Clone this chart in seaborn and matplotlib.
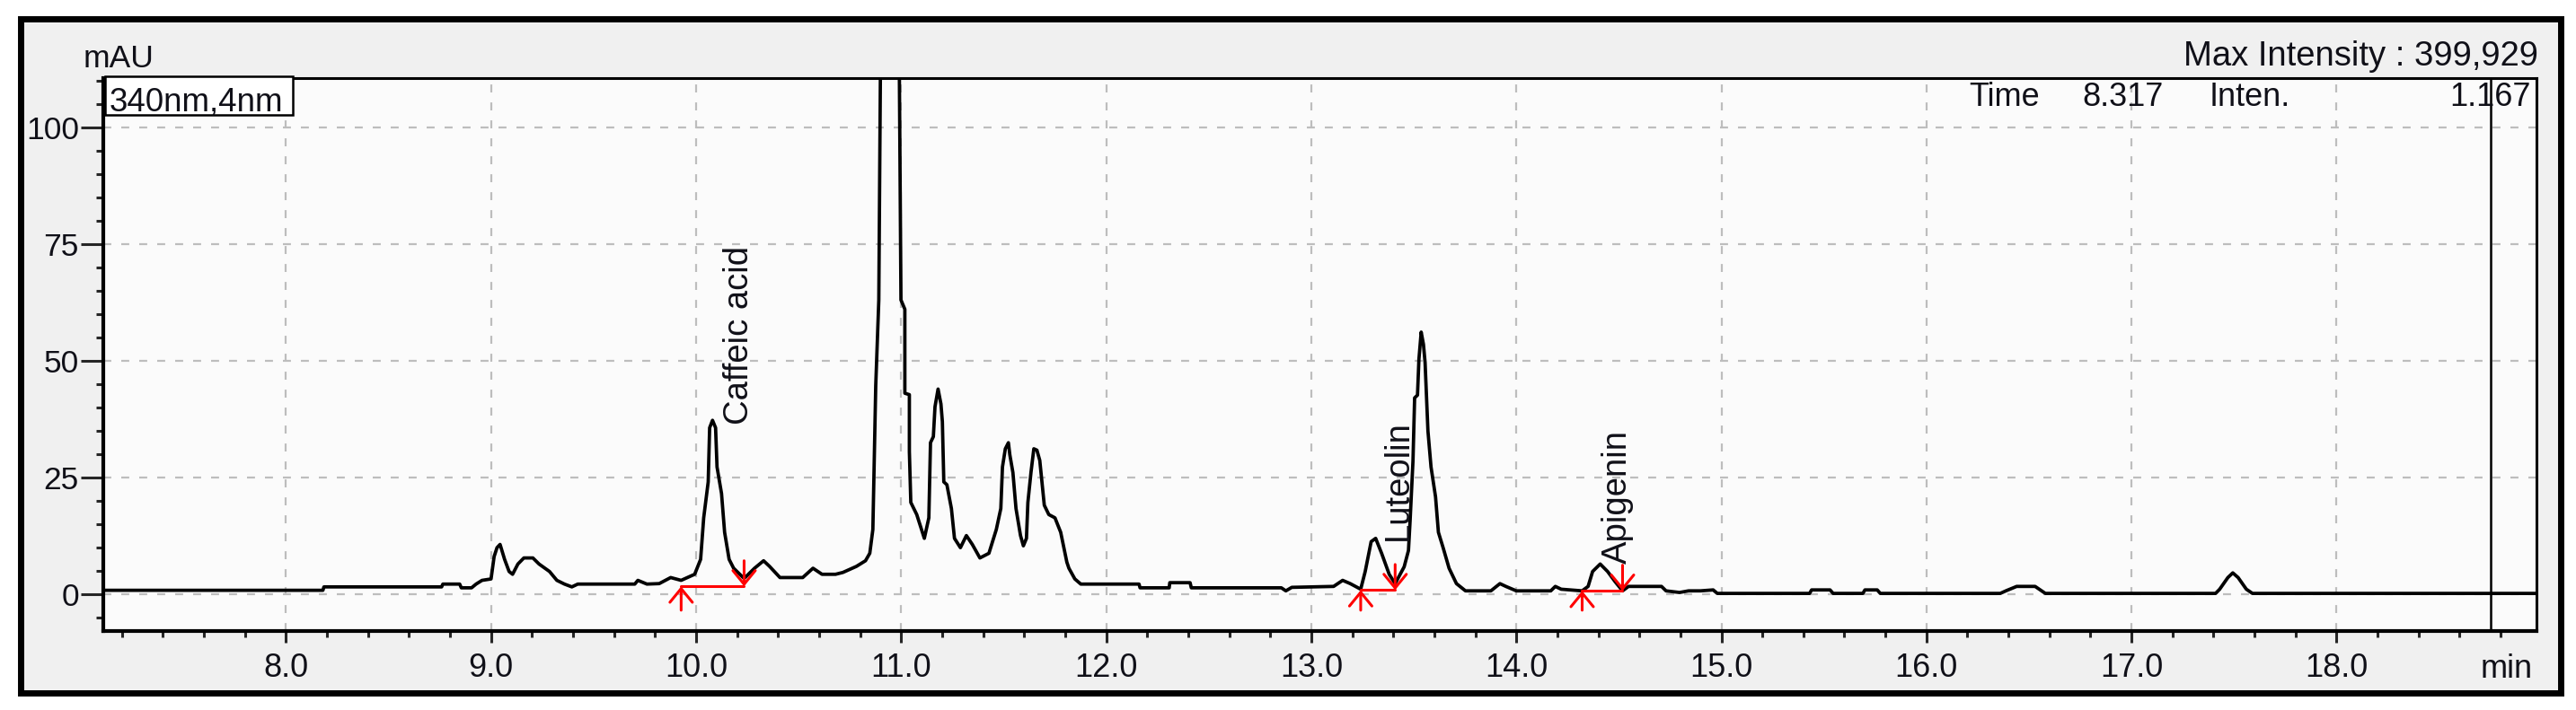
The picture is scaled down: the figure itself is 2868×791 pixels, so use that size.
import matplotlib
matplotlib.use("Agg")
import matplotlib.pyplot as plt
from matplotlib.patches import Rectangle
from matplotlib.ticker import MultipleLocator, FormatStrFormatter
import seaborn as sns
import pandas as pd


# =========================================================
# DATA (minutes, mAU)
# =========================================================

time_min = [
    7.11, 8.18, 8.185, 8.759, 8.765, 8.847, 8.855, 8.905, 8.927, 8.956,
    9.0, 9.015, 9.029, 9.044, 9.066, 9.088, 9.105, 9.131, 9.16, 9.204,
    9.234, 9.285, 9.321, 9.358, 9.394, 9.423, 9.701, 9.716, 9.76, 9.82,
    9.876, 9.927, 9.993, 10.022, 10.037, 10.059, 10.066, 10.08, 10.095, 10.102,
    10.124, 10.139, 10.161, 10.183, 10.234, 10.285, 10.329, 10.358, 10.409, 10.52,
    10.57, 10.614, 10.68, 10.716, 10.782, 10.826, 10.847, 10.862, 10.876, 10.891,
    10.945, 10.999, 11.018, 11.018, 11.04, 11.04, 11.047, 11.076, 11.113, 11.135,
    11.143, 11.157, 11.165, 11.18, 11.194, 11.201, 11.208, 11.223, 11.245, 11.26,
    11.289, 11.318, 11.347, 11.384, 11.428, 11.464, 11.486, 11.494, 11.508, 11.523,
    11.53, 11.545, 11.56, 11.582, 11.596, 11.611, 11.618, 11.633, 11.647, 11.662,
    11.676, 11.698, 11.72, 11.75, 11.778, 11.808, 11.818, 11.847, 11.876, 12.16,
    12.165, 12.307, 12.31, 12.409, 12.415, 12.854, 12.876, 12.905, 13.109, 13.153,
    13.19, 13.241, 13.263, 13.292, 13.314, 13.343, 13.38, 13.409, 13.453, 13.474,
    13.482, 13.496, 13.504, 13.518, 13.525, 13.536, 13.547, 13.555, 13.569, 13.584,
    13.606, 13.62, 13.643, 13.672, 13.708, 13.752, 13.876, 13.92, 13.949, 14.0,
    14.168, 14.19, 14.219, 14.321, 14.35, 14.372, 14.409, 14.445, 14.482, 14.518,
    14.547, 14.708, 14.73, 14.796, 14.84, 14.898, 14.96, 14.98, 15.43, 15.44,
    15.53, 15.545, 15.69, 15.70, 15.76, 15.775, 16.36, 16.39, 16.44, 16.53,
    16.56, 16.58, 17.41, 17.43, 17.47, 17.494, 17.52, 17.56, 17.59, 18.97,
]
absorbance_mau = [
    0.77, 0.77, 1.5, 1.5, 2.1, 2.1, 1.3, 1.3, 2.1, 2.9,
    3.2, 8.0, 9.9, 10.6, 7.4, 4.8, 4.2, 6.4, 7.7, 7.7,
    6.4, 4.8, 2.9, 2.1, 1.5, 2.1, 2.1, 2.9, 2.1, 2.2,
    3.5, 2.9, 4.2, 7.4, 16.3, 24.0, 35.6, 37.2, 35.6, 27.2,
    21.5, 13.2, 7.4, 5.5, 3.3, 5.5, 7.1, 5.9, 3.5, 3.5,
    5.5, 4.2, 4.2, 4.6, 5.9, 7.1, 8.7, 13.8, 44.6, 63.0,
    400.0, 63.0, 61.0, 43.0, 42.7, 30.5, 19.6, 17.0, 11.9, 16.3,
    32.4, 33.7, 40.1, 43.9, 40.7, 36.9, 24.0, 23.4, 18.3, 11.9,
    9.9, 12.5, 10.6, 7.7, 8.7, 13.8, 18.3, 27.2, 31.1, 32.4,
    29.8, 26.0, 18.3, 12.5, 10.3, 11.9, 19.6, 26.0, 31.1, 30.8,
    28.6, 19.0, 17.0, 16.3, 13.2, 6.8, 5.5, 3.2, 2.1, 2.1,
    1.3, 1.3, 2.4, 2.4, 1.3, 1.3, 0.65, 1.4, 1.6, 2.9,
    2.2, 1.0, 4.8, 11.2, 11.9, 8.7, 4.2, 2.2, 5.8, 9.3,
    15.7, 28.5, 42.0, 42.6, 50.3, 56.1, 53.5, 49.6, 34.9, 27.2,
    20.8, 13.2, 9.9, 5.5, 2.2, 0.65, 0.65, 2.2, 1.6, 0.65,
    0.65, 1.6, 1.0, 0.65, 1.6, 4.8, 6.4, 4.8, 2.6, 0.65,
    1.6, 1.6, 0.65, 0.3, 0.65, 0.65, 0.85, 0.1, 0.1, 0.85,
    0.85, 0.1, 0.1, 0.85, 0.85, 0.1, 0.1, 0.7, 1.6, 1.6,
    0.7, 0.1, 0.1, 1.0, 3.5, 4.5, 3.5, 1.0, 0.1, 0.1,
]

# integrated peaks (start / end of integration, baseline level)
peak_names = ["Caffeic acid", "Luteolin", "Apigenin"]
peak_start_min = [9.927, 13.241, 14.321]
peak_end_min = [10.234, 13.409, 14.518]
peak_base_mau = [1.6, 0.8, 0.65]

# where each peak name starts (rotated text)
label_t = [10.254, 13.468, 14.538]
label_y = [36.3, 11.5, 6.4]

x_ticks = [8.0, 9.0, 10.0, 11.0, 12.0, 13.0, 14.0, 15.0, 16.0, 17.0, 18.0]
y_ticks = [0, 25, 50, 75, 100]
cursor_time = 18.752

df = pd.DataFrame({"time": time_min, "mAU": absorbance_mau})


# =========================================================
# FIGURE
# =========================================================

sns.set_style("white")
plt.rcParams["font.family"] = ["Liberation Sans", "DejaVu Sans"]
txt_color = "#101018"

W, H = 2868, 791
fig = plt.figure(figsize=(W / 100, H / 100), dpi=100, facecolor="white")

# outer black frame of the report window
fig.add_artist(Rectangle((23 / W, 1 - 771.5 / H), (2851 - 23) / W, (771.5 - 20.5) / H,
                         transform=fig.transFigure, facecolor="#f0f0f0",
                         edgecolor="black", linewidth=5, zorder=-10))

ax = fig.add_axes([115 / W, 1 - 702.7 / H, (2824 - 115) / W, (702.7 - 86.7) / H])
ax.set_facecolor("#fbfbfb")

sns.lineplot(data=df, x="time", y="mAU", estimator=None, sort=False,
             color="black", linewidth=2.7, ax=ax)

# integration marks
for s, e, b in zip(peak_start_min, peak_end_min, peak_base_mau):
    ax.plot([s, e], [b, b], color="red", linewidth=2.2, zorder=4)
    arrow = dict(arrowstyle="->,head_length=0.55,head_width=0.45", color="red",
                 linewidth=2.2, mutation_scale=20, shrinkA=0, shrinkB=0)
    ax.annotate("", xy=(s, b), xytext=(s, -3.5), arrowprops=arrow, zorder=4)
    ax.annotate("", xy=(e, b), xytext=(e, b + 5.5), arrowprops=arrow, zorder=4)

for name, t, y in zip(peak_names, label_t, label_y):
    ax.text(t, y, name, rotation=90, rotation_mode="anchor", ha="left",
            va="baseline", fontsize=27.5, color=txt_color)

ax.axvline(cursor_time, color="black", linewidth=1.8)

ax.set_xlim(7.109, 18.975)
ax.set_ylim(-7.9, 110.6)
ax.set_xticks(x_ticks)
ax.set_yticks(y_ticks)
ax.xaxis.set_major_formatter(FormatStrFormatter("%.1f"))
ax.xaxis.set_minor_locator(MultipleLocator(0.2))
ax.yaxis.set_minor_locator(MultipleLocator(5))
ax.set_xlabel("")
ax.set_ylabel("")

ax.grid(True, which="major", color="#bdbdbd", linestyle=(0, (4, 5)), linewidth=1.6)
ax.set_axisbelow(True)

ax.tick_params(axis="x", which="major", direction="out", length=9.5, width=2.2,
               pad=8, labelsize=26, labelcolor=txt_color, bottom=True)
ax.tick_params(axis="x", which="minor", direction="out", length=5, width=2.2, bottom=True)
ax.tick_params(axis="y", which="major", direction="out", length=18, width=2.2,
               pad=1.5, labelsize=25.5, labelcolor=txt_color, left=True)
ax.tick_params(axis="y", which="minor", direction="out", length=5.5, width=2.2, left=True)

for side in ["top", "right"]:
    ax.spines[side].set_linewidth(2.2)
for side in ["left", "bottom"]:
    ax.spines[side].set_linewidth(3.0)
for sp in ax.spines.values():
    sp.set_color("black")
    sp.set_visible(True)

# header and annotations of the instrument report
fig.text(93 / W, 1 - 75 / H, "mAU", fontsize=25.5, color=txt_color, va="baseline")
fig.text(2826 / W, 1 - 73 / H, "Max Intensity : 399,929", fontsize=27.5,
         color=txt_color, ha="right", va="baseline")
fig.text(2192 / W, 1 - 118 / H, "Time", fontsize=26, color=txt_color, va="baseline")
fig.text(2318 / W, 1 - 118 / H, "8.317", fontsize=26, color=txt_color, va="baseline")
fig.text(2460 / W, 1 - 118 / H, "Inten.", fontsize=26, color=txt_color, va="baseline")
fig.text(2818 / W, 1 - 118 / H, "1.167", fontsize=26, color=txt_color,
         ha="right", va="baseline")
fig.text(2820 / W, 1 - 755 / H, "min", fontsize=26, color=txt_color,
         ha="right", va="baseline")

fig.add_artist(Rectangle((117 / W, 1 - 128 / H), 209 / W, 43 / H,
                         transform=fig.transFigure, facecolor="white",
                         edgecolor="black", linewidth=1.8, zorder=5))
fig.text(122 / W, 1 - 123 / H, "340nm,4nm", fontsize=26.5, color=txt_color,
         va="baseline", zorder=6)

fig.savefig("out.png", dpi=100, facecolor="white")
